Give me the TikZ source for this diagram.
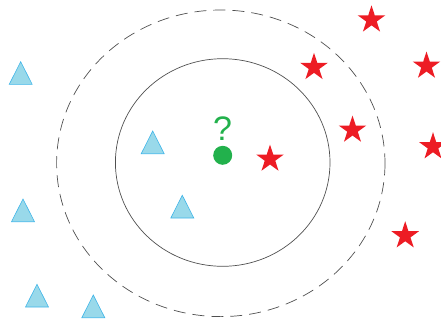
\documentclass[tikz,border=0pt]{standalone}
\usepackage{fontspec}
\setmainfont{Liberation Sans}
\usetikzlibrary{shapes.geometric}
\definecolor{starred}{HTML}{ED1C24}
\definecolor{dotgreen}{HTML}{22B14C}
\definecolor{trifill}{HTML}{99D9EA}
\definecolor{triedge}{HTML}{3FB5E8}
\definecolor{ringgray}{HTML}{505050}
\tikzset{
  redstar/.style={star, star points=5, star point ratio=2.618, fill=starred, draw=none, inner sep=0pt, minimum size=29pt},
  ring/.style={draw=ringgray, line width=0.7pt},
  dashring/.style={draw=ringgray, line width=0.7pt, dash pattern=on 12pt off 7pt},
  bluetri/.style={fill=trifill, draw=triedge, line width=0.6pt, line join=miter},
}
\begin{document}
\begin{tikzpicture}[x={(1pt,0)}, y={(0,-1pt)}]
\useasboundingbox (0,0) rectangle (441,322);
% rings
\draw[ring] (222.7,162.5) ellipse [x radius=107.3, y radius=103.8];
\draw[dashring] (220.8,163.3) ellipse [x radius=164.2, y radius=153.3];
% triangles (apex x, top y)
\foreach \tx/\ty [count=\i] in {20.7/61.7, 152.7/131, 23/199, 182.3/195.3, 37/284.3, 93.3/295}{
  \coordinate (t\i) at (\tx,\ty);
  \draw[bluetri] (t\i) -- ++(11.5,22.7) -- ++(-23,0) -- cycle;
}
% stars
\node[redstar] (s1) at (371.5,19.8) {};
\node[redstar] (s2) at (314,67.3) {};
\node[redstar] (s3) at (426.5,66) {};
\node[redstar] (s4) at (352.5,130) {};
\node[redstar] (s5) at (433,146.7) {};
\node[redstar] (s6) at (270,159) {};
\node[redstar] (s7) at (405.2,235.7) {};
% query point
\node[circle, fill=dotgreen, inner sep=0pt, minimum size=19pt] (q) at (222.7,155.3) {};
\node[text=dotgreen, font=\fontsize{34}{34}\selectfont, inner sep=0pt] (qm) at (222.7,128.3) {?};
\end{tikzpicture}
\end{document}
